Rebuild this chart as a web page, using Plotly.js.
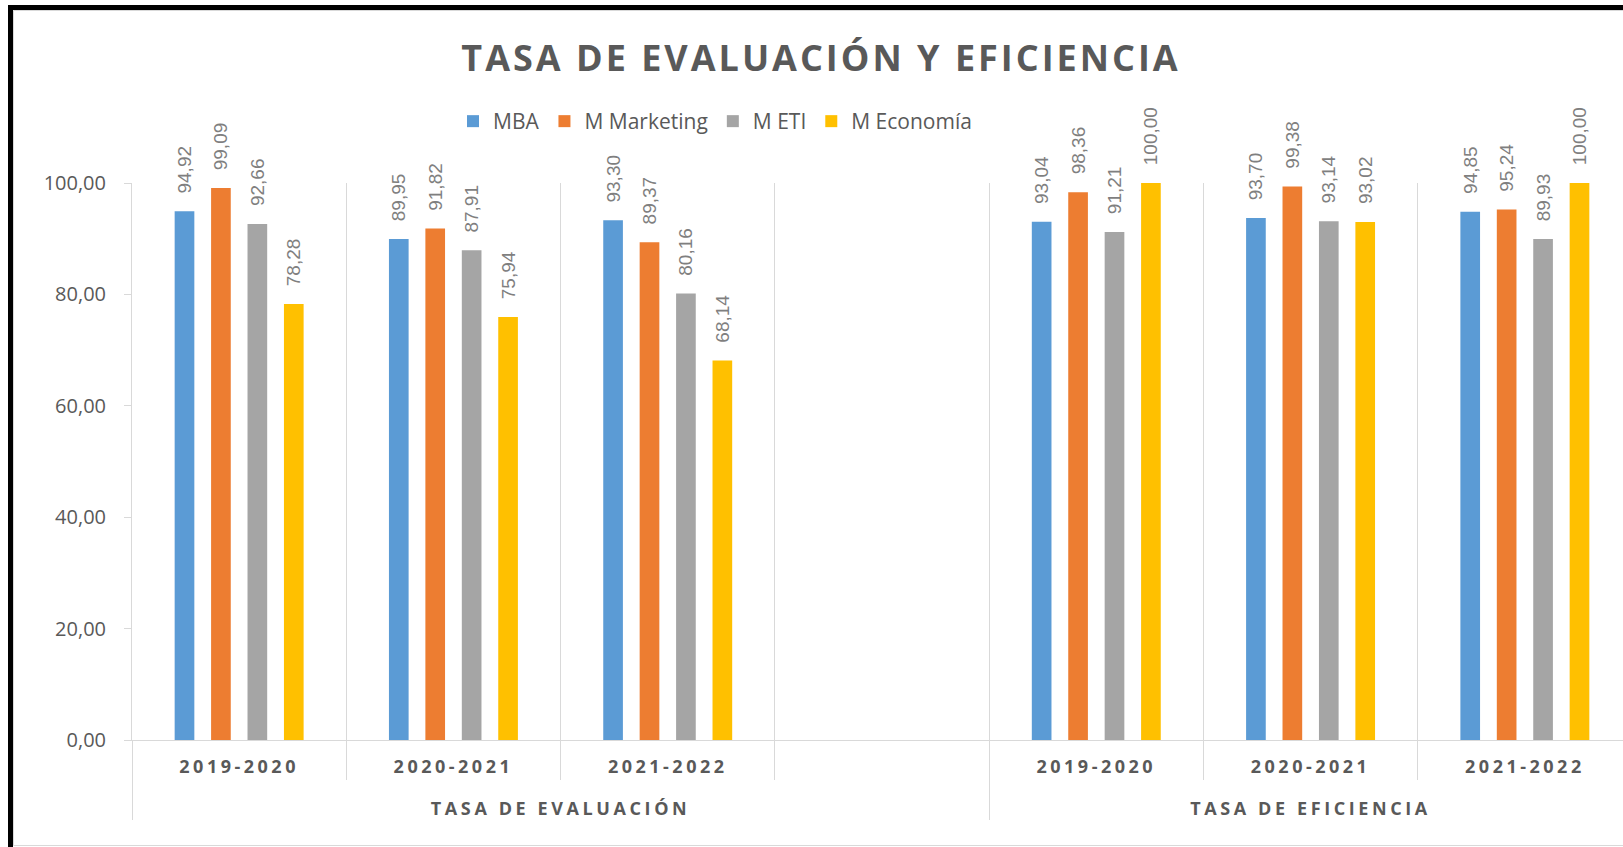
<!DOCTYPE html>
<html><head><meta charset="utf-8">
<script src="https://cdn.plot.ly/plotly-3.0.1.min.js"></script>
<style>
html,body{margin:0;padding:0;overflow:hidden;background:#fff;}
#chart{width:1632px;height:847px;}
#chart .gtitle{letter-spacing:3px;}
#chart .xtick text{letter-spacing:3.5px;}
#chart .xtick2 text{letter-spacing:3.6px;}
.xtick2 text{translate:0px 26px;}
</style></head><body><div id="chart"></div>
<script>
// ---- data ----
const groups = ["TASA DE EVALUACIÓN","TASA DE EVALUACIÓN","TASA DE EVALUACIÓN","TASA DE EVALUACIÓN","TASA DE EFICIENCIA","TASA DE EFICIENCIA","TASA DE EFICIENCIA"];
const years = ["2019-2020","2020-2021","2021-2022"," ","2019-2020","2020-2021","2021-2022"];
const mba = [94.92, 89.95, 93.30, null, 93.04, 93.70, 94.85];
const marketing = [99.09, 91.82, 89.37, null, 98.36, 99.38, 95.24];
const eti = [92.66, 87.91, 80.16, null, 91.21, 93.14, 89.93];
const economia = [78.28, 75.94, 68.14, null, 100.00, 93.02, 100.00];
const seriesNames = ["MBA","M Marketing","M ETI","M Economía"];
const seriesValues = [mba, marketing, eti, economia];
const colors = ["#5b9bd5","#ed7d31","#a5a5a5","#ffc000"];
const yTicks = [0,20,40,60,80,100];
const titleText = "TASA DE EVALUACIÓN Y EFICIENCIA";

// ---- layout constants ----
const W = 1632, H = 847, ML = 132, MR = 0, MT = 183, MB = 107;
const PW = W - ML - MR, PH = H - MT - MB;
const px2x = p => (p - ML) / PW;
const py2y = p => (H - MB - p) / PH;

const fmt = v => v == null ? "" : "\u2002\u00a0" + v.toFixed(2).replace(".", ",");

const traces = seriesNames.map((name, i) => ({
  type: "bar",
  name: name,
  x: [groups, years],
  y: seriesValues[i],
  text: seriesValues[i].map(fmt),
  textposition: "outside",
  textangle: -90,
  constraintext: "none",
  cliponaxis: false,
  textfont: {family: "Liberation Sans, Arial, sans-serif", size: 19, color: "#7f7f7f"},
  marker: {color: colors[i]},
  hoverinfo: "skip"
}));

const border = "#d9d9d9";
const shapes = [
  // black outer frame (top + left)
  {type: "rect", xref: "paper", yref: "paper", x0: px2x(8), x1: px2x(W + 5), y0: py2y(10), y1: py2y(5), fillcolor: "#000", line: {width: 0}, layer: "above"},
  {type: "rect", xref: "paper", yref: "paper", x0: px2x(8), x1: px2x(13), y0: py2y(H + 5), y1: py2y(5), fillcolor: "#000", line: {width: 0}, layer: "above"},
  // light chart-area border
  {type: "line", xref: "paper", yref: "paper", x0: px2x(13.5), x1: px2x(W + 5), y0: py2y(10.5), y1: py2y(10.5), line: {color: border, width: 1}},
  {type: "line", xref: "paper", yref: "paper", x0: px2x(13.5), x1: px2x(13.5), y0: py2y(10.5), y1: py2y(845.5), line: {color: border, width: 1}},
  {type: "line", xref: "paper", yref: "paper", x0: px2x(13.5), x1: px2x(W + 5), y0: py2y(845.5), y1: py2y(845.5), line: {color: border, width: 1}}
];

const layout = {
  width: W, height: H,
  margin: {l: ML, r: MR, t: MT, b: MB, pad: 0},
  paper_bgcolor: "#ffffff", plot_bgcolor: "#ffffff",
  separators: ",.",
  barmode: "group",
  bargap: 0.32,
  bargroupgap: 0.46,
  showlegend: true,
  title: {
    text: titleText,
    font: {family: "Open Sans, sans-serif", size: 36, weight: 700, color: "#595959"},
    xref: "container", x: 821 / W, xanchor: "center",
    yref: "container", y: 1 - 58 / H, yanchor: "middle"
  },
  legend: {
    orientation: "h",
    xref: "container", x: 453 / W, xanchor: "left",
    yref: "container", y: 1 - 101 / H, yanchor: "top",
    font: {family: "Open Sans, sans-serif", size: 21, color: "#595959"},
    bgcolor: "rgba(0,0,0,0)", traceorder: "normal"
  },
  xaxis: {
    type: "multicategory",
    range: [-0.5, 6.5],
    showline: true, linecolor: border, linewidth: 1,
    showgrid: true, gridcolor: border, gridwidth: 1,
    tickson: "boundaries",
    ticks: "outside", ticklen: 39, tickcolor: border, tickwidth: 1,
    ticklabelstandoff: 10,
    showdividers: true, dividercolor: border, dividerwidth: 1,
    tickfont: {family: "Open Sans, sans-serif", size: 18, weight: 700, color: "#595959"},
    fixedrange: true
  },
  yaxis: {
    range: [0, 100],
    tickvals: yTicks,
    tickformat: ".2f",
    showline: true, linecolor: border, linewidth: 1,
    ticks: "outside", ticklen: 7, tickcolor: border,
    ticklabelstandoff: 14,
    showgrid: false, zeroline: false,
    tickfont: {family: "Open Sans, sans-serif", size: 20, color: "#595959"},
    fixedrange: true
  },
  shapes: shapes
};

Plotly.newPlot("chart", traces, layout, {displayModeBar: false, staticPlot: true});
</script></body></html>
